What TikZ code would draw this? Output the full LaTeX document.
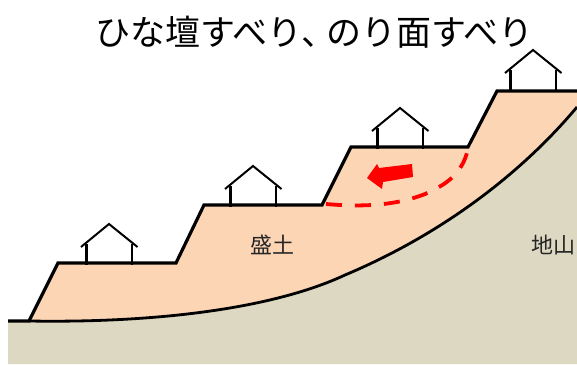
\documentclass[tikz,border=0pt]{standalone}
\usepackage{fontspec}
\setmainfont{Noto Sans CJK JP}
\definecolor{groundc}{RGB}{221,216,193}
\definecolor{fillc}{RGB}{252,213,181}
\begin{document}
\begin{tikzpicture}[x=1pt,y=-1pt,
  outline/.style={draw=black,line width=3.2pt,line join=miter},
  baseline/.style={draw=black,line width=2.8pt},
  roofline/.style={draw=black,line width=2pt,line join=miter},
  wallline/.style={draw=black,line width=2.8pt},
  slip/.style={draw=red,line width=3.8pt,dash pattern=on 16pt off 13pt},
  lab/.style={inner sep=0pt,text=black!85,font=\fontsize{22}{22}\selectfont},
  house/.pic={
    \draw[wallline] (-22.5,20) -- (-22.5,41) (23,20) -- (23,41);
    \draw[roofline] (-28,23) -- (0,0) -- (28.5,23);
  }]
\useasboundingbox (0,0) rectangle (577,364);
\fill[white] (0,0) rectangle (577,364);
% ground
\fill[groundc] (8,321) -- (30,321)
  .. controls (150,323) and (270,310) .. (345,275)
  .. controls (440,235) and (520,175) .. (577,107)
  -- (577,364) -- (8,364) -- cycle;
% made ground
\fill[fillc] (30,320) -- (58,263) -- (176,263) -- (204,205) -- (322,205) -- (351,147) -- (468,147) -- (497,91) -- (577,91) -- (577,107)
  .. controls (520,175) and (440,235) .. (345,275)
  .. controls (270,310) and (150,323) .. (30,321) -- cycle;
% outline
\draw[outline] (8,321) -- (29,321) -- (58,263) -- (176,263) -- (204,205) -- (322,205) -- (351,147) -- (468,147) -- (497,91) -- (577,91);
\draw[baseline] (29,321)
  .. controls (150,323) and (270,310) .. (345,275)
  .. controls (440,235) and (520,175) .. (577,107);
% houses
\pic at (109,224) {house};
\pic at (253,166) {house};
\pic at (400,108) {house};
\pic at (533,50) {house};
% slip surface
\draw[slip] (326,204) .. controls (360,207) and (395,206) .. (425,194)
  .. controls (445,185) and (462,175) .. (468,149);
% movement arrow
\fill[red] (367,178) -- (377,164) -- (379,168) -- (412,164) -- (413,177) -- (383,182) -- (382,189) -- cycle;
% labels
\node[lab] (fill) at (272,245) {盛土};
\node[lab,anchor=east] (rock) at (576,245) {地山};
\node[inner sep=0pt,anchor=west,font=\fontsize{35}{35}\selectfont] (title) at (95,32) {ひな壇すべり、\kern-10pt のり面すべり};
\end{tikzpicture}
\end{document}
